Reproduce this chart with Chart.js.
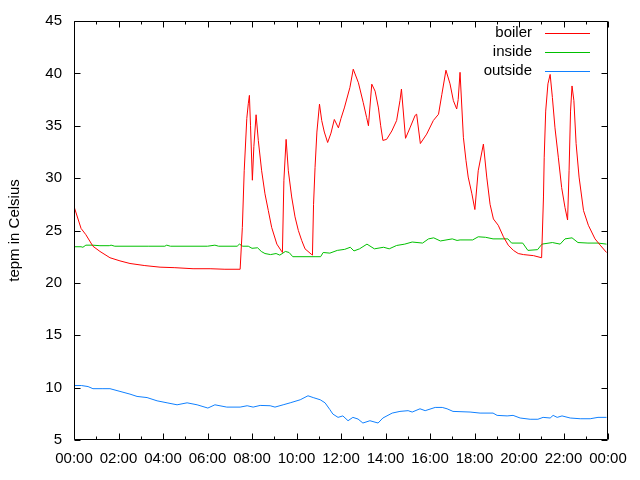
<!DOCTYPE html>
<html>
<head>
<meta charset="utf-8">
<script src="https://cdn.jsdelivr.net/npm/chart.js@4/dist/chart.umd.min.js"></script>
<style>
html,body{margin:0;padding:0;background:#fff;}
#wrap{width:640px;height:480px;position:relative;}
</style>
</head>
<body>
<div id="wrap"><canvas id="c" width="640" height="480"></canvas></div>
<script>
// minutes since midnight
const boilerTimes = [0,19,32,51,70,97,124,151,191,232,272,321,367,407,448,450,454,459,466,470,473,476,481,485,491,497,506,515,524,533,547,560,562,566,572,578,587,596,605,614,623,641,643,646,650,655,662,668,675,684,693,702,713,720,729,744,753,767,780,789,794,803,812,821,827,833,843,857,870,879,883,894,906,920,924,934,951,969,983,992,1003,1014,1023,1032,1036,1041,1050,1057,1063,1073,1081,1090,1104,1113,1122,1131,1144,1158,1171,1185,1198,1212,1239,1261,1266,1268,1272,1278,1284,1290,1297,1306,1315,1324,1331,1335,1339,1343,1348,1354,1362,1374,1387,1405,1419,1436];
const boilerTemps = [27.3,25.2,24.6,23.5,23.0,22.4,22.1,21.85,21.65,21.5,21.45,21.35,21.35,21.3,21.3,21.3,25.3,30.7,35.7,37.1,37.9,35.0,29.8,33.0,36.05,33.6,30.7,28.5,26.9,25.3,23.7,23.0,22.9,29.8,33.7,30.7,28.2,26.3,25.0,24.05,23.25,22.7,22.65,27.5,31.0,34.4,37.06,35.5,34.4,33.4,34.3,35.6,34.8,35.7,36.7,38.65,40.4,39.1,37.2,35.8,35.0,38.97,38.3,36.7,35.0,33.6,33.7,34.5,35.5,37.4,38.5,33.8,34.8,36.0,36.1,33.3,34.2,35.5,36.1,38.0,40.3,39.0,37.4,36.6,37.5,40.1,33.9,31.7,30.1,28.5,27.0,30.7,33.25,30.1,27.5,26.1,25.5,24.4,23.6,23.1,22.8,22.7,22.6,22.4,28.2,32.0,36.4,39.0,39.9,37.7,34.8,32.0,29.1,27.2,26.0,30.7,36.4,38.8,37.4,33.3,30.1,26.9,25.5,24.2,23.6,22.9];

const insideTimes = [0,19,24,32,50,70,95,100,110,200,245,250,260,360,380,390,440,446,455,470,480,495,505,515,530,545,555,570,580,590,650,665,672,690,710,730,745,755,770,790,810,835,850,870,892,912,940,956,970,988,1020,1033,1041,1075,1090,1110,1130,1170,1180,1210,1224,1250,1262,1290,1311,1324,1343,1359,1386,1413,1436];
const insideTemps = [23.45,23.45,23.4,23.6,23.6,23.55,23.55,23.6,23.5,23.5,23.5,23.6,23.5,23.5,23.6,23.5,23.5,23.7,23.5,23.5,23.3,23.35,23.0,22.8,22.7,22.8,22.65,23.0,22.9,22.5,22.5,22.5,22.9,22.84,23.1,23.2,23.4,23.05,23.25,23.7,23.25,23.4,23.25,23.57,23.7,23.9,23.8,24.2,24.3,24.0,24.2,24.05,24.1,24.1,24.4,24.35,24.2,24.2,23.8,23.8,23.1,23.17,23.7,23.85,23.7,24.2,24.3,23.85,23.8,23.8,23.7];

const outsideTimes = [0,20,38,51,78,97,124,151,170,197,224,251,278,305,332,361,380,412,448,467,483,502,529,542,564,583,610,631,645,664,677,690,698,712,725,739,752,766,779,798,820,833,858,879,901,912,933,947,974,993,1006,1022,1068,1095,1130,1141,1168,1184,1203,1230,1251,1265,1284,1292,1303,1316,1338,1365,1392,1413,1436];
const outsideTemps = [10.2,10.2,10.1,9.9,9.9,9.9,9.64,9.38,9.16,9.05,8.74,8.55,8.36,8.55,8.36,8.05,8.36,8.14,8.14,8.27,8.14,8.3,8.27,8.14,8.36,8.55,8.84,9.22,9.05,8.84,8.55,7.9,7.48,7.16,7.3,6.84,7.16,7.0,6.62,6.84,6.62,7.1,7.57,7.73,7.8,7.67,7.98,7.8,8.11,8.11,7.98,7.73,7.67,7.57,7.57,7.35,7.3,7.35,7.1,6.98,6.98,7.16,7.1,7.35,7.16,7.3,7.1,7.03,7.03,7.16,7.16];

const seriesNames = ['boiler','inside','outside'];
const seriesColors = ['#ff0000','#00c000','#1080ff'];
const xTickLabels = ['00:00','02:00','04:00','06:00','08:00','10:00','12:00','14:00','16:00','18:00','20:00','22:00','00:00'];
const yTitle = 'tepm in Celsius';

const FONT = "'Liberation Sans', Arial, sans-serif";

function pts(t, v){ return t.map((x,i)=>({x:x, y:v[i]})); }

const framePlugin = {
  id: 'frame',
  afterDraw(chart){
    const ctx = chart.ctx, a = chart.chartArea;
    const xs = chart.scales.x, ys = chart.scales.y;
    ctx.save();
    ctx.strokeStyle = '#000';
    ctx.lineWidth = 1;
    const L = Math.round(a.left)+0.5, R = Math.round(a.right)-0.5, T = Math.round(a.top)+0.5, B = Math.round(a.bottom)-0.5;
    ctx.beginPath();
    ctx.rect(L, T, R-L, B-T);
    // y ticks
    for (let v = ys.min; v <= ys.max; v += 5){
      const y = Math.round(ys.getPixelForValue(v))+0.5;
      ctx.moveTo(L, y); ctx.lineTo(L+6, y);
      ctx.moveTo(R, y); ctx.lineTo(R-6, y);
    }
    // x ticks
    for (let m = 0; m <= 1440; m += 60){
      const x = Math.round(xs.getPixelForValue(m))+0.5;
      const len = (m % 120 === 0) ? 6 : 3;
      ctx.moveTo(x, B); ctx.lineTo(x, B-len);
      ctx.moveTo(x, T); ctx.lineTo(x, T+len);
    }
    ctx.stroke();
    // legend
    ctx.font = '15px ' + FONT;
    ctx.textAlign = 'right';
    ctx.textBaseline = 'middle';
    chart.data.datasets.forEach((ds,i)=>{
      const y = 33 + i*19;
      ctx.fillStyle = '#000';
      ctx.fillText(ds.label, 532, y);
      ctx.strokeStyle = ds.borderColor;
      ctx.beginPath();
      ctx.moveTo(545, y+0.5); ctx.lineTo(590, y+0.5);
      ctx.stroke();
    });
    ctx.restore();
  }
};

new Chart(document.getElementById('c'), {
  type: 'line',
  data: {
    datasets: [
      {label: seriesNames[0], data: pts(boilerTimes, boilerTemps), borderColor: seriesColors[0]},
      {label: seriesNames[1], data: pts(insideTimes, insideTemps), borderColor: seriesColors[1]},
      {label: seriesNames[2], data: pts(outsideTimes, outsideTemps), borderColor: seriesColors[2]}
    ].map(d => Object.assign(d, {borderWidth: 1, pointRadius: 0, tension: 0, fill: false}))
  },
  options: {
    responsive: false,
    animation: false,
    devicePixelRatio: 1,
    layout: {padding: {left: 0, right: 32, top: 20, bottom: 0}},
    plugins: {legend: {display: false}, tooltip: {enabled: false}},
    scales: {
      x: {
        type: 'linear', min: 0, max: 1440,
        grid: {display: false, drawTicks: false},
        border: {display: false},
        ticks: {
          stepSize: 120, autoSkip: false, maxRotation: 0, padding: 10,
          color: '#000', font: {family: FONT, size: 15},
          callback: (v) => xTickLabels[Math.round(v/120)]
        },
        afterFit: (s) => { s.height = 40; }
      },
      y: {
        min: 5, max: 45,
        grid: {display: false, drawTicks: false},
        border: {display: false},
        ticks: {stepSize: 5, padding: 12, color: '#000', font: {family: FONT, size: 15}},
        title: {display: true, text: yTitle, color: '#000', font: {family: FONT, size: 15}, padding: {top: 6, bottom: 0}},
        afterFit: (s) => { s.width = 74; }
      }
    }
  },
  plugins: [framePlugin]
});
</script>
</body>
</html>
